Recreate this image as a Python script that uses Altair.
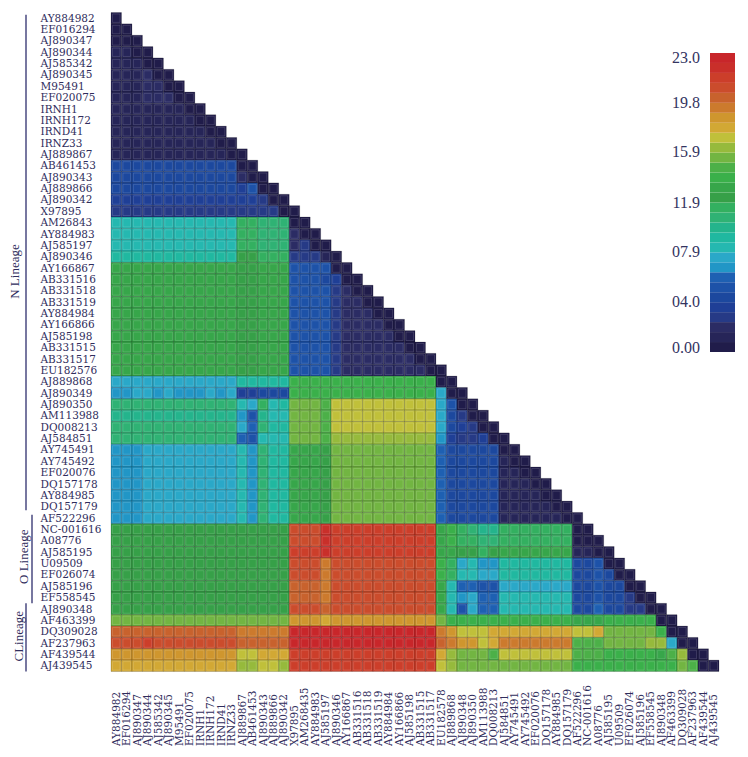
import altair as alt
import pandas as pd

y_labels = ["AY884982","EF016294","AJ890347","AJ890344","AJ585342","AJ890345","M95491","EF020075","IRNH1","IRNH172","IRND41","IRNZ33","AJ889867","AB461453","AJ890343","AJ889866","AJ890342","X97895","AM26843","AY884983","AJ585197","AJ890346","AY166867","AB331516","AB331518","AB331519","AY884984","AY166866","AJ585198","AB331515","AB331517","EU182576","AJ889868","AJ890349","AJ890350","AM113988","DQ008213","AJ584851","AY745491","AY745492","EF020076","DQ157178","AY884985","DQ157179","AF522296","NC-001616","A08776","AJ585195","U09509","EF026074","AJ585196","EF558545","AJ890348","AF463399","DQ309028","AF237963","AF439544","AJ439545"]
x_labels = ["AY884982","EF016294","AJ890347","AJ890344","AJ585342","AJ890345","M95491","EF020075","IRNH1","IRNH172","IRND41","IRNZ33","AJ889867","AB461453","AJ890343","AJ889866","AJ890342","X97895","AM268435","AY884983","AJ585197","AJ890346","AY166867","AB331516","AB331518","AB331519","AY884984","AY166866","AJ585198","AB331515","AB331517","EU182578","AJ889868","AJ890348","AJ890350","AM113988","DQ008213","AJ584851","AY745491","AY745492","EF020076","DQ157178","AY884985","DQ157179","AF522296","NC-001616","A08776","AJ585195","U09509","EF026074","AJ585196","EF558545","AJ890348","AF463399","DQ309028","AF237963","AF439544","AJ439545"]

palette = ["#201c4a","#262558","#2b2c64","#263a86","#1f3f96","#1c489e","#1d52a8","#1e60b2","#2196c6","#2aa8c8","#25b8b0","#20b8a0","#24b48c","#2fb274","#33b060","#36a048","#37a64a","#3ab04a","#4cb048","#72b542","#96ba3c","#c0c03a","#d2a834","#cf962e","#cc7a2d","#c8622d","#cb4c2c","#cc3e2a","#c92f2a","#c8262a"]

legend_labels = ["23.0","19.8","15.9","11.9","07.9","04.0","0.00"]
legend_label_pos = [22.6,19.15,15.4,11.5,7.7,3.85,0.3]

lineage_names = ["N Lineage","O Lineage","CLineage"]
lineage_start = [0.2,44.2,52.0]
lineage_end = [43.8,52.0,58.0]
lineage_mid = [22.8,47.9,54.9]
lineage_rule_px = [-85,-79,-85]
lineage_text_px = [-96,-87,-92]

# each row is a list of (run length, value) read left to right
A32 = [(1,7.0),(1,7.0),(1,7.0),(1,7.6),(1,7.0),(1,7.4),(1,7.0),(1,7.0),(1,7.2),(1,7.2),(1,7.2),(1,7.2)]
A33 = [(1,6.5),(1,6.5),(1,7.0),(1,7.5),(1,6.4),(1,7.4),(1,6.6),(1,6.4),(1,6.8),(1,7.0),(1,6.8),(1,7.0)]
A38 = [(3,6.8),(9,7.1)]
B38 = [(1,8.2),(1,6.4),(1,10.6),(1,9.0),(1,8.8),(3,12.6),(1,12.0),(10,15.2),(1,5.6),(5,4.4)]
G22 = [(12,12.8),(2,12.0),(3,12.6)]
G45 = [(12,12.0),(5,11.8)]
rows = [
 [(1,.3)],
 [(1,.7),(1,.3)],
 [(2,.7),(1,.3)],
 [(2,1.0),(1,.7),(1,.3)],
 [(3,1.2),(1,.7),(1,.3)],
 [(3,1.2),(1,1.8),(1,.7),(1,.3)],
 [(3,1.2),(2,1.8),(1,.7),(1,.3)],
 [(3,1.2),(3,1.8),(1,.7),(1,.3)],
 [(7,1.2),(1,.7),(1,.3)],
 [(8,1.2),(1,.7),(1,.3)],
 [(9,1.2),(1,.7),(1,.3)],
 [(10,1.0),(1,.7),(1,.3)],
 [(11,.9),(1,.7),(1,.3)],
 [(12,4.4),(1,.7),(1,.3)],
 [(12,4.2),(1,2.2),(1,.7),(1,.3)],
 [(12,4.2),(1,3.6),(1,5.0),(1,.7),(1,.3)],
 [(12,3.4),(2,3.4),(1,2.4),(1,.7),(1,.3)],
 [(12,2.6),(4,2.6),(1,.7),(1,.3)],
 [(12,8.0),(2,11.0),(3,10.2),(1,.7),(1,.3)],
 [(12,8.0),(2,11.0),(3,10.2),(1,1.8),(1,.7),(1,.3)],
 [(12,8.0),(2,11.0),(3,10.2),(1,1.8),(1,2.4),(1,.7),(1,.3)],
 [(12,8.8),(2,11.8),(3,11.0),(1,2.4),(2,2.8),(1,.9),(1,.3)],
 G22+[(4,4.8),(1,.7),(1,.3)],
 G22+[(3,5.0),(1,4.4),(1,3.2),(1,.7),(1,.3)],
 G22+[(4,5.0),(1,2.4),(1,1.8),(1,.7),(1,.3)],
 G22+[(4,5.0),(1,2.4),(2,1.6),(1,.7),(1,.3)],
 G22+[(4,5.0),(1,2.4),(3,1.6),(1,.7),(1,.3)],
 G22+[(4,5.2),(1,2.4),(4,1.6),(1,.7),(1,.3)],
 G22+[(4,5.2),(1,2.4),(5,1.6),(1,.7),(1,.3)],
 G22+[(4,5.2),(1,2.4),(6,1.6),(1,.7),(1,.3)],
 G22+[(4,5.2),(1,2.4),(7,1.6),(1,.7),(1,.3)],
 G22+[(4,5.0),(1,2.4),(8,1.6),(1,.7),(1,.3)],
 A32+[(5,9.0),(14,13.2),(1,.7),(1,.3)],
 A33+[(2,3.4),(3,4.0),(14,13.2),(1,7.2),(1,.7),(1,.3)],
 [(12,10.5),(1,7.7),(1,7.2),(1,10.9),(1,8.4),(1,8.7),(3,14.7),(1,14.0),(10,16.8),(1,7.2),(1,5.0),(1,.7),(1,.3)],
 [(12,9.4),(1,6.5),(1,5.0),(1,9.4),(1,7.7),(1,8.0),(3,14.7),(1,14.0),(10,16.8),(1,7.0),(1,4.4),(1,2.8),(1,.7),(1,.3)],
 [(12,10.0),(1,7.3),(1,5.7),(1,10.0),(1,8.6),(1,8.8),(3,14.7),(1,14.0),(10,16.8),(1,7.3),(1,4.5),(1,3.4),(1,2.4),(1,.7),(1,.3)],
 [(12,10.3),(1,5.4),(1,5.0),(1,7.9),(2,8.0),(3,14.7),(1,14.0),(10,16.0),(1,6.7),(1,3.4),(2,2.8),(1,3.4),(1,.7),(1,.3)],
 A38+B38+[(1,.7),(1,.3)],
 A38+B38+[(1,.9),(1,.7),(1,.3)],
 A38+B38+[(2,.9),(1,.7),(1,.3)],
 A38+B38+[(3,.9),(1,.7),(1,.3)],
 A38+B38+[(4,.9),(1,.7),(1,.3)],
 A38+B38+[(5,.9),(1,.7),(1,.3)],
 A38+B38+[(6,1.0),(1,.7),(1,.3)],
 G45+[(3,20.5),(1,21.6),(10,20.8),(1,12.5),(1,13.4),(1,11.0),(1,10.5),(1,9.3),(1,9.8),(7,11.2),(1,.7),(1,.3)],
 G45+[(3,20.5),(1,21.6),(10,20.8),(1,12.3),(1,13.2),(1,11.3),(1,11.0),(1,10.0),(1,10.3),(7,11.4),(2,.7),(1,.3)],
 G45+[(3,21.0),(1,22.0),(10,21.0),(1,12.3),(1,13.0),(1,11.5),(1,11.6),(1,11.4),(1,11.7),(7,12.8),(2,1.3),(1,.7),(1,.3)],
 G45+[(3,20.5),(1,19.0),(10,20.5),(1,13.4),(1,10.8),(1,7.6),(1,8.0),(2,6.8),(7,8.7),(2,4.4),(1,5.0),(1,.7),(1,.3)],
 G45+[(3,20.5),(1,19.0),(10,20.5),(1,13.4),(1,10.8),(2,8.0),(1,7.2),(1,7.6),(7,9.0),(2,4.2),(1,4.6),(1,4.2),(1,.7),(1,.3)],
 G45+[(3,19.8),(1,18.8),(10,20.2),(1,13.0),(1,8.3),(1,6.0),(1,5.5),(1,4.9),(1,5.3),(7,6.95),(2,3.9),(1,4.6),(1,3.9),(1,4.5),(1,.7),(1,.3)],
 G45+[(3,19.8),(1,19.0),(10,20.2),(1,13.0),(1,8.2),(1,6.2),(1,7.0),(1,5.5),(1,5.8),(7,8.2),(2,3.9),(1,4.8),(1,3.9),(1,4.3),(1,2.4),(1,.7),(1,.3)],
 G45+[(3,20.2),(1,19.2),(10,20.5),(1,13.0),(1,8.3),(1,5.3),(1,7.6),(1,5.5),(1,5.8),(7,7.9),(2,4.2),(1,5.5),(1,3.9),(1,4.2),(2,3.0),(1,.7),(1,.3)],
 [(12,15.3),(5,14.6),(3,18.2),(1,17.6),(10,18.2),(1,14.7),(1,13.7),(11,13.2),(3,12.6),(4,13.2),(1,13.5),(1,.7),(1,.3)],
 [(12,19.6),(5,18.6),(14,22.5),(1,18.6),(1,17.8),(2,16.5),(1,16.7),(1,17.2),(7,17.5),(2,16.5),(1,17.2),(5,15.3),(1,13.7),(1,.7),(1,.3)],
 [(3,20.6),(1,21.0),(8,20.6),(5,19.6),(14,22.8),(1,19.5),(1,18.6),(2,17.7),(1,16.6),(1,17.4),(7,18.6),(3,14.3),(4,15.3),(1,15.7),(1,15.4),(1,7.3),(1,.7),(1,.3)],
 [(12,18.0),(2,16.5),(3,17.0),(14,21.3),(1,17.0),(1,15.9),(1,15.0),(1,14.8),(1,14.7),(1,14.5),(7,16.3),(3,14.0),(5,13.1),(1,12.8),(1,13.8),(1,16.0),(1,.7),(1,.3)],
 [(12,17.0),(2,15.6),(2,16.5),(1,16.0),(14,21.0),(1,16.4),(1,15.4),(4,14.6),(7,15.1),(3,13.2),(6,13.2),(1,13.7),(1,14.8),(1,13.8),(1,.7),(1,.3)],
]

records = []
for r, runs in enumerate(rows):
    c = 0
    for n, v in runs:
        for _ in range(n):
            records.append({"col": c, "col_end": c + 1, "row": r, "row_end": r + 1, "value": v})
            c += 1
    assert c == r + 1, (r, c)
cells = pd.DataFrame(records)

n = len(y_labels)
tick_vals = [i + 0.5 for i in range(n)]
x_expr = "[" + ",".join(f"'{s}'" for s in x_labels) + "][floor(datum.value)]"
y_expr = "[" + ",".join(f"'{s}'" for s in y_labels) + "][floor(datum.value)]"
INK = "#2f2d5c"

x_scale = alt.Scale(domain=[0, n], nice=False, zero=False)
y_scale = alt.Scale(domain=[n, 0], nice=False, zero=False)
x_axis = alt.Axis(values=tick_vals, labelExpr=x_expr, labelAngle=270, labelAlign="left", labelBaseline="middle",
                  labelPadding=74, labelFont="DejaVu Serif", labelFontSize=10.5, labelColor=INK, labelOverlap=False,
                  labelFlush=False, ticks=False, domain=False, grid=False, title=None)
y_axis = alt.Axis(values=tick_vals, labelExpr=y_expr, labelAlign="left", labelBaseline="middle",
                  labelPadding=71, labelFont="DejaVu Serif", labelFontSize=10.5, labelColor=INK, labelOverlap=False,
                  labelFlush=False, ticks=False, domain=False, grid=False, title=None)
x_enc = alt.X("col:Q", scale=x_scale, axis=x_axis)
y_enc = alt.Y("row:Q", scale=y_scale, axis=y_axis)

base = alt.Chart(cells).mark_rect(stroke="#000000", strokeOpacity=0.17, strokeWidth=1).encode(
    x=x_enc, x2="col_end:Q", y=y_enc, y2="row_end:Q",
    color=alt.Color("value:Q", legend=None,
                    scale=alt.Scale(type="quantize", domain=[0, 23], range=palette, nice=False, zero=False)),
)
inset = alt.Chart(cells).mark_rect(fillOpacity=0, stroke="#ffffff", strokeOpacity=0.13, strokeWidth=1,
                                   xOffset=1.5, x2Offset=-1.5, yOffset=1.5, y2Offset=-1.5).encode(
    x=x_enc, x2="col_end:Q", y=y_enc, y2="row_end:Q")

lineage = pd.DataFrame({"name": lineage_names, "start": lineage_start, "end": lineage_end,
                        "mid": lineage_mid})
rules = [alt.Chart(lineage.iloc[[i]]).mark_rule(color="#4a4a80", strokeWidth=1.5).encode(
            x=alt.value(lineage_rule_px[i]),
            y=alt.Y("start:Q", scale=y_scale, axis=y_axis), y2="end:Q") for i in range(3)]
texts = [alt.Chart(lineage.iloc[[i]]).mark_text(angle=270, font="Liberation Serif", fontSize=13, color=INK,
                                                 align="center", baseline="middle").encode(
            x=alt.value(lineage_text_px[i]),
            y=alt.Y("mid:Q", scale=y_scale, axis=y_axis), text="name:N") for i in range(3)]

heat = alt.layer(base, inset, *rules, *texts)

step = 23 / len(palette)
legend_df = pd.DataFrame({"lo": [i * step for i in range(len(palette))],
                          "hi": [(i + 1) * step for i in range(len(palette))],
                          "a": 0, "b": 1, "color": palette})
leg_y = alt.Scale(domain=[0, 23], range=[339.5, 40.5], nice=False, zero=False)
leg_x = alt.Scale(domain=[0, 1], range=[599, 624], nice=False, zero=False)
leg_rect = alt.Chart(legend_df).mark_rect().encode(
    x=alt.X("a:Q", scale=leg_x, axis=None), x2="b:Q",
    y=alt.Y("lo:Q", scale=leg_y, axis=None), y2="hi:Q",
    color=alt.Color("color:N", scale=None, legend=None))
leg_text_df = pd.DataFrame({"label": legend_labels, "pos": legend_label_pos, "a": 0})
leg_text = alt.Chart(leg_text_df).mark_text(font="Liberation Serif", fontSize=16, color="#33345f",
                                            align="right", baseline="middle", dx=-10).encode(
    x=alt.X("a:Q", scale=leg_x, axis=None),
    y=alt.Y("pos:Q", scale=leg_y, axis=None), text="label:N")
legend_layer = alt.layer(leg_rect, leg_text)

chart = alt.layer(heat, legend_layer).resolve_scale(x="independent", y="independent", color="independent").properties(
    width=608, height=659, autosize=alt.AutoSizeParams(type="none"),
    padding={"left": 103, "top": 4.5, "right": 21, "bottom": 77.5},
).configure_view(stroke=None)

chart.save("out.html", embed_options={"renderer": "svg", "actions": False})
